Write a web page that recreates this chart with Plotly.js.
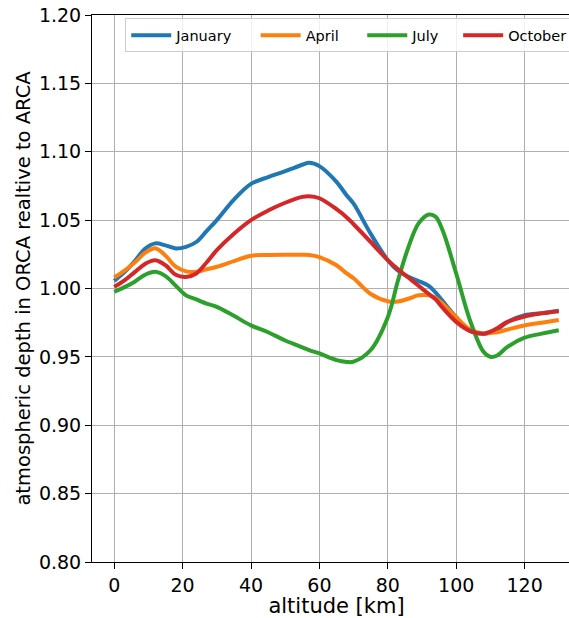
<!DOCTYPE html>
<html>
<head>
<meta charset="utf-8">
<script src="https://cdn.plot.ly/plotly-3.0.1.min.js"></script>
<style>
  html, body { margin: 0; padding: 0; background: #fff; overflow: hidden; }
  #chart { width: 620px; height: 618px; }
</style>
</head>
<body>
<div id="chart"></div>
<script>
// Altitude grid (km) shared by all monthly profiles
const altitude = [0, 3, 6, 9, 12, 15, 18, 21, 24, 27, 30, 35, 40, 45, 50, 55, 57, 60, 65, 68, 70, 75, 80, 83, 86, 89, 92, 94, 96, 100, 104, 108, 110, 112, 115, 120, 125, 130];

// Atmospheric depth ratio ORCA / ARCA per month
const january = [1.0056, 1.012, 1.020, 1.029, 1.033, 1.0315, 1.0293, 1.0305, 1.034, 1.042, 1.050, 1.065, 1.0765, 1.0815, 1.0858, 1.0905, 1.0920, 1.0895, 1.078, 1.068, 1.062, 1.040, 1.0207, 1.013, 1.0085, 1.0055, 1.002, 0.997, 0.991, 0.979, 0.969, 0.967, 0.968, 0.970, 0.9755, 0.9805, 0.982, 0.9837];
const april = [1.008, 1.013, 1.019, 1.026, 1.0295, 1.024, 1.016, 1.0125, 1.0122, 1.014, 1.0159, 1.020, 1.024, 1.0245, 1.0247, 1.0247, 1.0245, 1.023, 1.017, 1.011, 1.0075, 0.996, 0.9907, 0.9905, 0.9925, 0.995, 0.995, 0.993, 0.989, 0.979, 0.970, 0.967, 0.9675, 0.968, 0.970, 0.973, 0.975, 0.977];
const july = [0.9976, 1.001, 1.005, 1.010, 1.0122, 1.009, 1.002, 0.995, 0.992, 0.989, 0.9866, 0.980, 0.973, 0.968, 0.962, 0.957, 0.955, 0.9525, 0.9476, 0.9463, 0.9465, 0.955, 0.979, 1.006, 1.030, 1.0476, 1.0541, 1.0525, 1.0427, 1.011, 0.977, 0.9537, 0.950, 0.951, 0.9573, 0.964, 0.967, 0.9695];
const october = [1.0012, 1.006, 1.012, 1.018, 1.0207, 1.017, 1.010, 1.0085, 1.011, 1.019, 1.028, 1.040, 1.050, 1.057, 1.0627, 1.067, 1.0675, 1.066, 1.058, 1.052, 1.047, 1.034, 1.0207, 1.014, 1.008, 1.002, 0.996, 0.992, 0.986, 0.9756, 0.969, 0.967, 0.9685, 0.971, 0.9756, 0.9795, 0.9818, 0.9834];

const monthNames = ['January', 'April', 'July', 'October'];
const monthColors = ['#1f77b4', '#ff7f0e', '#2ca02c', '#d62728'];
const monthSeries = [january, april, july, october];

const xTicks = [0, 20, 40, 60, 80, 100, 120];
const yTicks = [0.80, 0.85, 0.90, 0.95, 1.00, 1.05, 1.10, 1.15, 1.20];

// trailing no-break spaces open up the gap between legend entries
const nb = '\u00a0';
const legendPad = [nb.repeat(4), nb.repeat(4), nb.repeat(3), ''];

const traces = monthSeries.map((vals, i) => ({
  x: altitude,
  y: vals,
  type: 'scatter',
  mode: 'lines',
  name: monthNames[i] + legendPad[i],
  line: { color: monthColors[i], width: 4, shape: 'spline', smoothing: 1 }
}));

const font = 'DejaVu Sans, sans-serif';

const layout = {
  width: 620,
  height: 618,
  margin: { l: 92, r: 39, t: 15, b: 56 },
  paper_bgcolor: '#fff',
  plot_bgcolor: '#fff',
  font: { family: font, color: '#000' },
  showlegend: true,
  legend: {
    orientation: 'h',
    x: 0.068, xanchor: 'left',
    y: 0.994, yanchor: 'top',
    itemwidth: 40,
    bgcolor: 'rgba(255,255,255,0.8)',
    bordercolor: '#cccccc',
    borderwidth: 1,
    font: { family: font, size: 14.5, color: '#000' }
  },
  xaxis: {
    range: [-6.5, 136.5],
    tickvals: xTicks,
    ticktext: xTicks.map(String),
    showgrid: true, gridcolor: '#b0b0b0', gridwidth: 1,
    zeroline: false,
    showline: true, linecolor: '#000', linewidth: 1, mirror: true,
    ticks: 'outside', ticklen: 6, tickwidth: 1, tickcolor: '#000',
    tickfont: { family: font, size: 19, color: '#000' },
    title: { text: 'altitude [km]', font: { family: font, size: 21, color: '#000' }, standoff: 7 }
  },
  yaxis: {
    range: [0.80, 1.20],
    tickvals: yTicks,
    ticktext: yTicks.map(v => v.toFixed(2)),
    showgrid: true, gridcolor: '#b0b0b0', gridwidth: 1,
    zeroline: false,
    showline: true, linecolor: '#000', linewidth: 1, mirror: true,
    ticks: 'outside', ticklen: 6, tickwidth: 1, tickcolor: '#000',
    tickfont: { family: font, size: 19, color: '#000' },
    title: { text: 'atmospheric depth in ORCA realtive to ARCA', font: { family: font, size: 19.5, color: '#000' }, standoff: 3 }
  }
};

Plotly.newPlot('chart', traces, layout, { displayModeBar: false, staticPlot: true });
</script>
</body>
</html>
